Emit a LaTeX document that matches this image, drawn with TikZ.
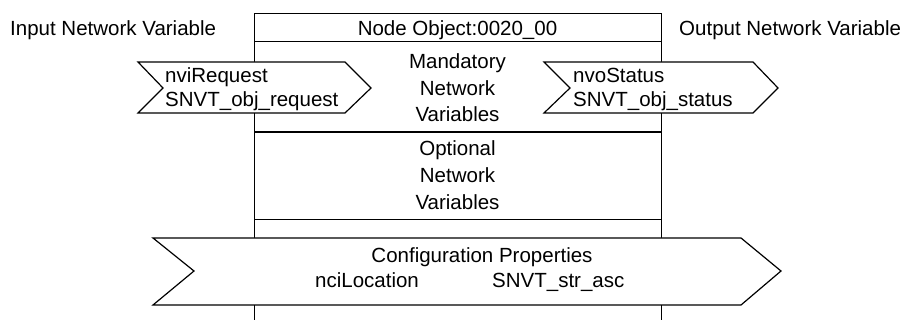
\documentclass[tikz,border=0pt]{standalone}
\usepackage{fontspec}
\setmainfont{Liberation Sans}
\begin{document}
\begin{tikzpicture}[x=1pt,y=-1pt,
  lbl/.style={font=\fontsize{20.5}{24}\selectfont, inner sep=0pt},
  boxline/.style={draw=black, line width=1pt},
  chev/.style={draw=black, fill=white, line width=1.2pt, line join=miter}]
\useasboundingbox (0,0) rectangle (906,320);
% main object box
\coordinate (tl) at (254,14);
\coordinate (tr) at (661,14);
\coordinate (bl) at (254,320);
\coordinate (br) at (661,320);
\draw[boxline] (bl) -- (tl) -- (tr) -- (br);
\draw[boxline] (254,42) -- (661,42);
\draw[draw=black, line width=2pt] (254,132) -- (661,132);
\draw[boxline] (254,220) -- (661,220);
% headings
\node[lbl, anchor=base west] (inlbl) at (10,36) {Input Network Variable};
\node[lbl, anchor=base west] (outlbl) at (679,36) {Output Network Variable};
\node[lbl, anchor=base] (title) at (457.5,36) {Node Object:0020\_00};
% mandatory
\node[lbl, anchor=base] (m1) at (457.5,69) {Mandatory};
\node[lbl, anchor=base] (m2) at (457.5,95.5) {Network};
\node[lbl, anchor=base] (m3) at (457.5,122) {Variables};
% optional
\node[lbl, anchor=base] (o1) at (457.5,156) {Optional};
\node[lbl, anchor=base] (o2) at (457.5,183) {Network};
\node[lbl, anchor=base] (o3) at (457.5,210) {Variables};
% input chevron
\draw[chev] (138,62) -- (345,62) -- (371,88) -- (345,113) -- (138,113) -- (163,88) -- cycle;
\node[lbl, anchor=base west] (nvi1) at (165,83) {nviRequest};
\node[lbl, anchor=base west] (nvi2) at (165,107) {SNVT\_obj\_request};
% output chevron
\draw[chev] (544,62) -- (753,62) -- (778,88) -- (753,113) -- (544,113) -- (570,88) -- cycle;
\node[lbl, anchor=base west] (nvo1) at (573,83) {nvoStatus};
\node[lbl, anchor=base west] (nvo2) at (573,107) {SNVT\_obj\_status};
% configuration chevron
\draw[chev] (153,238) -- (741,238) -- (781,271) -- (741,305) -- (153,305) -- (194,271) -- cycle;
\node[lbl, anchor=base] (cp) at (482,263) {Configuration Properties};
\node[lbl, anchor=base west] (nci) at (315,288) {nciLocation};
\node[lbl, anchor=base west] (snvt) at (492,288) {SNVT\_str\_asc};
\end{tikzpicture}
\end{document}
